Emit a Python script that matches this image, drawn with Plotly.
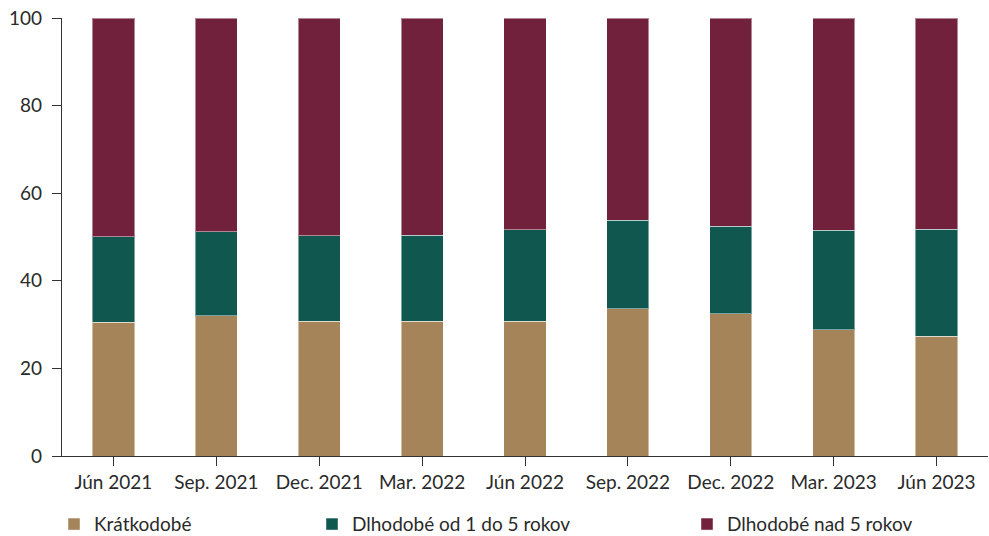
import plotly.graph_objects as go

# Quarterly periods
periods = ["Jún 2021", "Sep. 2021", "Dec. 2021", "Mar. 2022", "Jún 2022",
           "Sep. 2022", "Dec. 2022", "Mar. 2023", "Jún 2023"]

# Shares in percent
short_term = [30.5, 32.0, 30.8, 30.8, 30.8, 33.6, 32.5, 28.8, 27.3]
mid_term = [19.6, 19.2, 19.5, 19.6, 20.8, 20.2, 20.0, 22.7, 24.5]
long_term = [100 - s - m for s, m in zip(short_term, mid_term)]

series = [
    ("Krátkodobé", short_term, "#A5845A", "legend"),
    ("Dlhodobé od 1 do 5 rokov", mid_term, "#10584F", "legend2"),
    ("Dlhodobé nad 5 rokov", long_term, "#72213D", "legend3"),
]

fig = go.Figure()
for name, vals, color, leg in series:
    fig.add_trace(go.Bar(
        x=list(range(len(periods))), y=vals, name=name, width=0.41,
        marker=dict(color=color, line=dict(color="rgba(255,255,255,0.45)", width=1)),
        legend=leg, showlegend=True,
    ))

font = dict(family="Lato, 'Open Sans', sans-serif", size=19, color="#2a2a2a")
leg_common = dict(orientation="h", xref="container", yref="container",
                  xanchor="left", yanchor="middle", y=0.022,
                  font=font, bgcolor="rgba(0,0,0,0)", itemwidth=30)

fig.update_layout(
    barmode="stack",
    width=989, height=536,
    margin=dict(l=62, r=1, t=18, b=80),
    paper_bgcolor="white", plot_bgcolor="white",
    font=font,
    showlegend=True,
    legend=dict(x=(62 - 8) / 989, **leg_common),
    legend2=dict(x=(318 - 6) / 989, **leg_common),
    legend3=dict(x=(693 - 6) / 989, **leg_common),
    xaxis=dict(
        tickmode="array", tickvals=list(range(len(periods))), ticktext=periods,
        range=[-0.5, len(periods) - 0.5],
        showline=True, linecolor="#333333", linewidth=1.2,
        ticks="outside", ticklen=9, tickcolor="#333333", tickwidth=1.2,
        tickson="boundaries", showgrid=False, zeroline=False,
    ),
    yaxis=dict(
        range=[0, 100], tickvals=[0, 20, 40, 60, 80, 100],
        showline=True, linecolor="#333333", linewidth=1.2,
        ticks="outside", ticklen=9, tickcolor="#333333", tickwidth=1.2,
        showgrid=False, zeroline=False, ticklabelstandoff=6,
    ),
)

fig.write_html("out.html")
